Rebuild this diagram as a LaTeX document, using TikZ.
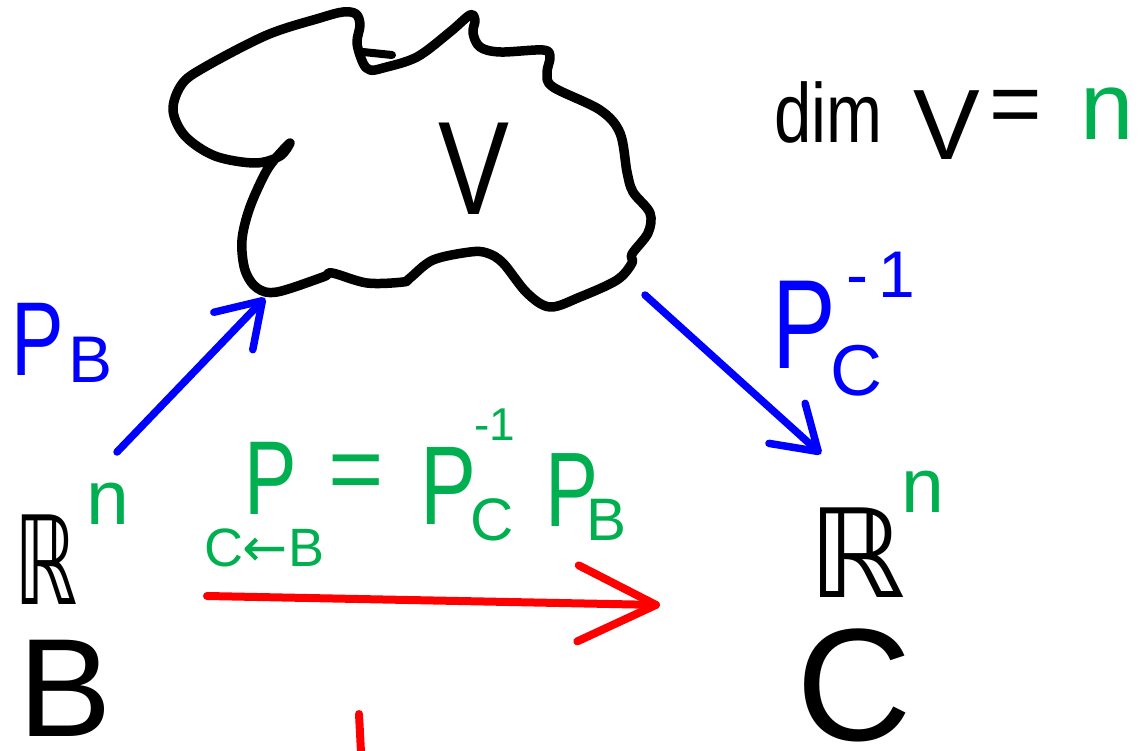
\documentclass[tikz,border=0pt]{standalone}
\usepackage{fontspec}
\usepackage{graphicx}
\setmainfont{Liberation Sans}
\newfontfamily\dvs{DejaVu Sans}
\usetikzlibrary{arrows.meta}
\definecolor{hgreen}{RGB}{0,176,80}
\definecolor{hblue}{RGB}{0,0,255}
\definecolor{hred}{RGB}{255,0,0}
\newcommand{\narrowP}{\scalebox{0.75}[1]{P}}
\tikzset{
  txt/.style={inner sep=0pt,outer sep=0pt,anchor=base west},
  fs/.style={font=\fontsize{#1}{#1}\selectfont},
  ink/.style={line cap=round,line join=round},
  bluearrow/.style={ink,hblue,line width=7.5pt,-{Straight Barb[length=42pt,width=54pt,line width=7.5pt,round]}},
  redarrow/.style={ink,hred,line width=8pt,-{Straight Barb[length=78pt,width=76pt,line width=8pt,round]}},
}
\begin{document}
\begin{tikzpicture}[x=1pt,y=-1pt]
\useasboundingbox (0,0) rectangle (1142,751);
% cloud V
\draw[ink,line width=9.5pt] plot[smooth,tension=0.55] coordinates {
 (290,143) (280,156) (255,163) (215,156) (185,136) (173,110) (182,84) (205,67) (267,35) (320,18) (343,12) (356,14)
 (360,25) (357,43) (363,63) (370,70) (383,68) (417,57) (450,32) (470,15) (475,20) (473,33) (480,47) (500,52) (543,50)
 (550,57) (547,73) (553,87) (600,110) (620,133) (627,172) (633,192) (650,213) (648,233) (632,254) (632,263) (617,280)
 (580,297) (550,307) (527,293) (503,263) (487,253) (470,252) (433,260) (410,278) (403,282) (367,283) (332,273) (323,277)
 (277,292) (257,288) (245,270) (242,240) (250,207) (267,170) (283,150) (290,143)};
\draw[ink,line width=8pt] (363,52) -- (392,55);
\node[txt,fs=133] (V) at (438,215) {\scalebox{0.8}[1]{V}};
% dim V = n
\node[txt,fs=84] (dim) at (774,143) {\scalebox{0.8}[1]{dim}};
\node[txt,fs=100] (dimV) at (913,160) {V};
\node[fs=90,inner sep=0pt] (eq1) at (1016,112) {=};
\node[txt,fs=96,text=hgreen] (dimn) at (1080,140) {n};
% P_B
\node[txt,fs=105,text=hblue] (PB) at (12,375) {\narrowP};
\node[txt,fs=66,text=hblue] (PBsub) at (68,382) {B};
% P_C^{-1}
\node[txt,fs=127,text=hblue] (PC) at (772,368) {\narrowP};
\node[txt,fs=72,text=hblue] (PCsub) at (830,395) {C};
\node[txt,fs=66,text=hblue] (PCsup) at (846,297) {-\,1};
% left R^n, B
\node[txt,fs=123] (RL) at (14,604) {\scalebox{0.65}[1]{\dvs ℝ}};
\node[txt,fs=77,text=hgreen] (nL) at (86,524) {n};
\node[txt,fs=140] (BL) at (18,736) {B};
% right R^n, C
\node[txt,fs=123] (RR) at (808,597) {{\dvs ℝ}};
\node[txt,fs=77,text=hgreen] (nR) at (901,512) {n};
\node[txt,fs=160] (CR) at (796,740) {C};
% green formula
\node[txt,fs=105,text=hgreen] (P1) at (244,514) {\narrowP};
\node[fs=95,inner sep=0pt,text=hgreen] (eq2) at (356,478) {=};
\node[txt,fs=112,text=hgreen] (P2) at (420,524) {\narrowP};
\node[txt,fs=60,text=hgreen] (P2sub) at (470,540) {C};
\node[txt,fs=46,text=hgreen] (P2sup) at (474,440) {-1};
\node[txt,fs=106,text=hgreen] (P3) at (545,526) {\narrowP};
\node[txt,fs=60,text=hgreen] (P3sub) at (586,540) {B};
\node[txt,fs=54,text=hgreen] (CB) at (204,566) {C{\dvs ←}B};
% arrows
\coordinate (a1s) at (117,452);
\coordinate (a1e) at (265,298);
\coordinate (a2s) at (645,295);
\coordinate (a2e) at (821,454);
\coordinate (a3s) at (207,596);
\coordinate (a3e) at (660,605);
\coordinate (t1) at (359,714);
\coordinate (t2) at (361,752);
\draw[bluearrow] (a1s) -- (a1e);
\draw[bluearrow] (a2s) -- (a2e);
\draw[redarrow] (a3s) -- (a3e);
\draw[ink,hred,line width=8pt] (t1) -- (t2);
\end{tikzpicture}
\end{document}
